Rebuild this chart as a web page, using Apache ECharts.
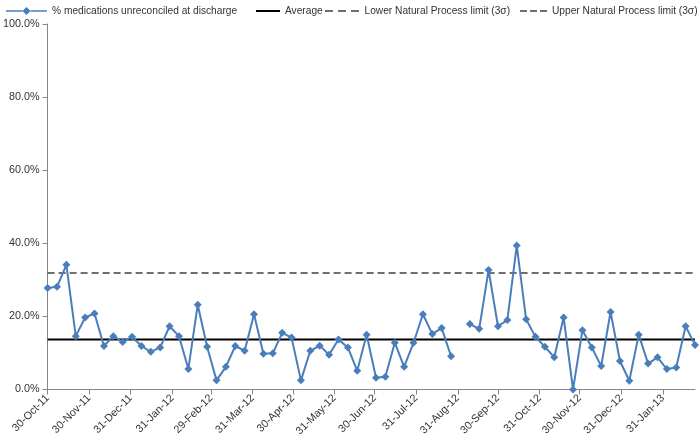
<!DOCTYPE html>
<html>
<head>
<meta charset="utf-8">
<script src="https://cdn.jsdelivr.net/npm/echarts@6/dist/echarts.min.js"></script>
<style>
html,body{margin:0;padding:0;background:#fff;}
#chart{width:700px;height:439px;}
</style>
</head>
<body>
<div id="chart"></div>
<script>
// Weekly values (%), first week ending 30-Oct-11; null = missing week
const weeklyValues = [
  27.8, 28.1, 34.1, 14.6, 19.7, 20.8, 11.9, 14.6, 13.0, 14.4, 11.9, 10.3,
  11.5, 17.3, 14.6, 5.6, 23.2, 11.7, 2.5, 6.2, 11.9, 10.6, 20.6, 9.8,
  9.9, 15.5, 14.2, 2.5, 10.6, 12.0, 9.5, 13.7, 11.5, 5.1, 15.0, 3.2,
  3.5, 12.8, 6.2, 12.8, 20.6, 15.2, 16.8, 9.1, null, 17.9, 16.6,
  32.7, 17.3, 19.0, 39.4, 19.2, 14.4, 11.7, 8.8, 19.7, 0.0, 16.2, 11.5,
  6.4, 21.2, 7.8, 2.4, 15.0, 7.1, 8.8, 5.6, 6.0, 17.3, 12.2
];
const averageValue = 13.7;
const upperLimit = 31.9;
const lowerLimit = -4.5;
const tickLabels = ['30-Oct-11','30-Nov-11','31-Dec-11','31-Jan-12','29-Feb-12','31-Mar-12',
  '30-Apr-12','31-May-12','30-Jun-12','31-Jul-12','31-Aug-12','30-Sep-12','31-Oct-12',
  '30-Nov-12','31-Dec-12','31-Jan-13'];
const seriesNames = ['% medications unreconciled at discharge','Average',
  'Lower Natural Process limit (3\u03c3)','Upper Natural Process limit (3\u03c3)'];

// daily category axis from 30-Oct-11
const MONTHS = ['Jan','Feb','Mar','Apr','May','Jun','Jul','Aug','Sep','Oct','Nov','Dec'];
const start = Date.UTC(2011, 9, 30);
const nDays = (weeklyValues.length - 1) * 7 + 1;
const days = [];
for (let i = 0; i < nDays; i++) {
  const d = new Date(start + i * 86400000);
  const dd = String(d.getUTCDate()).padStart(2, '0');
  const yy = String(d.getUTCFullYear() % 100).padStart(2, '0');
  days.push(dd + '-' + MONTHS[d.getUTCMonth()] + '-' + yy);
}
const mainData = weeklyValues.map((v, i) => [days[i * 7], v === null ? '-' : v]);
const first = days[0], last = days[days.length - 1];
const tickSet = new Set(tickLabels);

const BLUE = '#4A7EBB';
const font = 'Liberation Sans, Arial, sans-serif';
const legendText = {fontSize: 10.2, color: '#333', fontFamily: font};
// legend icons
const iconMain = 'path://M0,4.2h16v1.6h-16z M16,5l4,-4l4,4l-4,4z M24,4.2h16v1.6h-16z';
const iconSolid = 'path://M0,0h24v2h-24z';
const iconDash = 'path://M0,0h8v1.6h-8z M13,0h8v1.6h-8z M26,0h8v1.6h-8z';
const iconDash2 = 'path://M0,0h7v1.6h-7z M10,0h7v1.6h-7z M20,0h7v1.6h-7z';

function mkLegend(i, left, w, h, icon, color) {
  return {
    top: 6, left: left, itemWidth: w, itemHeight: h, itemGap: 0, padding: 0,
    textStyle: legendText,
    data: [{name: seriesNames[i], icon: icon, itemStyle: {color: color}}]
  };
}

const chart = echarts.init(document.getElementById('chart'), null, {renderer: 'canvas'});
chart.setOption({
  animation: false,
  backgroundColor: '#ffffff',
  textStyle: {fontFamily: font},
  legend: [
    mkLegend(0, 6, 41, 10, iconMain, BLUE),
    mkLegend(1, 256, 24, 2, iconSolid, '#000'),
    mkLegend(2, 325, 35, 1.6, iconDash, '#404040'),
    mkLegend(3, 520, 27, 1.6, iconDash2, '#404040')
  ],
  grid: {left: 43.5, right: 5, top: 24, bottom: 49.5, containLabel: false},
  xAxis: {
    type: 'category',
    data: days,
    boundaryGap: false,
    axisLine: {lineStyle: {color: '#868686', width: 1}},
    axisTick: {show: true, length: 5, lineStyle: {color: '#868686'},
      interval: (idx, val) => tickSet.has(val)},
    axisLabel: {rotate: 45, fontSize: 10.8, color: '#333', margin: 7,
      interval: (idx, val) => tickSet.has(val)},
    splitLine: {show: false}
  },
  yAxis: {
    type: 'value', min: 0, max: 100, interval: 20,
    axisLine: {show: true, lineStyle: {color: '#868686', width: 1}},
    axisTick: {show: true, length: 5, lineStyle: {color: '#868686'}},
    axisLabel: {fontSize: 10.8, color: '#333', margin: 8,
      formatter: v => v.toFixed(1) + '%'},
    splitLine: {show: false}
  },
  series: [
    {
      name: seriesNames[0], type: 'line', data: mainData,
      symbol: 'diamond', symbolSize: 8, showSymbol: true, showAllSymbol: true,
      lineStyle: {color: BLUE, width: 2},
      itemStyle: {color: BLUE},
      connectNulls: false, z: 5
    },
    {
      name: seriesNames[1], type: 'line', symbol: 'none',
      data: [[first, averageValue], [last, averageValue]],
      lineStyle: {color: '#000', width: 2}, itemStyle: {color: '#000'}
    },
    {
      name: seriesNames[2], type: 'line', symbol: 'none', clip: true,
      data: [[first, lowerLimit], [last, lowerLimit]],
      lineStyle: {color: '#404040', width: 1.5, type: [7, 4]}, itemStyle: {color: '#404040'}
    },
    {
      name: seriesNames[3], type: 'line', symbol: 'none',
      data: [[first, upperLimit], [last, upperLimit]],
      lineStyle: {color: '#404040', width: 1.5, type: [7, 4]}, itemStyle: {color: '#404040'}
    }
  ]
});
</script>
</body>
</html>
